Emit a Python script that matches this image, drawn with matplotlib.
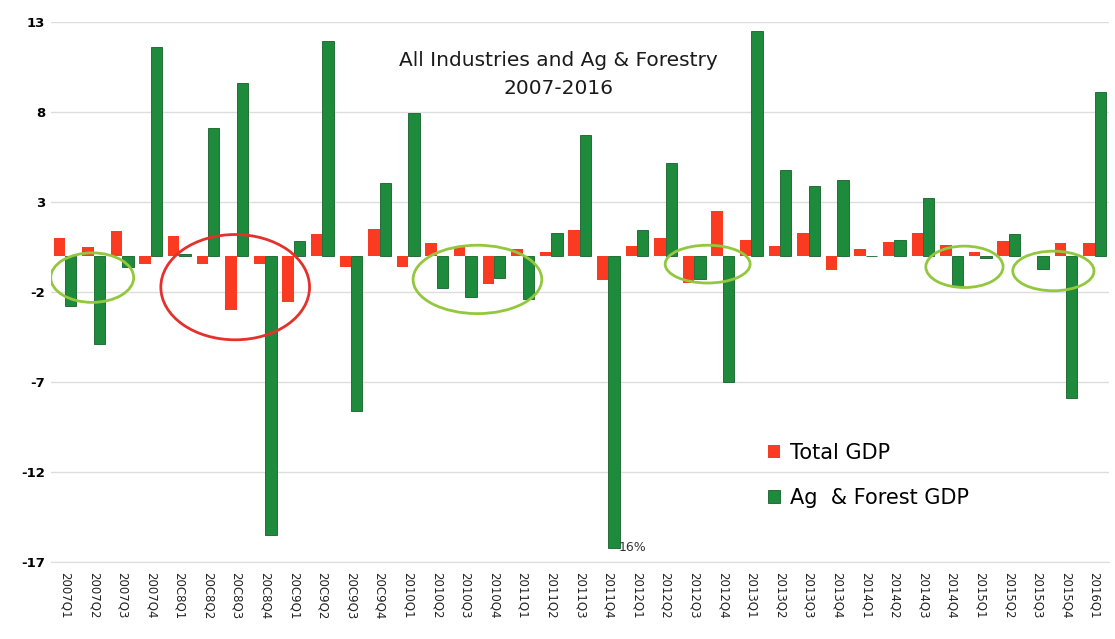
import numpy as np
import matplotlib
matplotlib.use("Agg")
from matplotlib import pyplot as plt
from matplotlib.patches import Ellipse

quarters = ['2007Q1', '2007Q2', '2007Q3', '2007Q4',
            '2008Q1', '2008Q2', '2008Q3', '2008Q4',
            '2009Q1', '2009Q2', '2009Q3', '2009Q4',
            '2010Q1', '2010Q2', '2010Q3', '2010Q4',
            '2011Q1', '2011Q2', '2011Q3', '2011Q4',
            '2012Q1', '2012Q2', '2012Q3', '2012Q4',
            '2013Q1', '2013Q2', '2013Q3', '2013Q4',
            '2014Q1', '2014Q2', '2014Q3', '2014Q4',
            '2015Q1', '2015Q2', '2015Q3', '2015Q4',
            '2016Q1']
# scanned tick labels show 2008/2009 as "20C8", "20C9"
tick_labels = [q.replace('2008', '20C8').replace('2009', '20C9') for q in quarters]

total_gdp = [1.0, 0.5, 1.4, -0.45,
             1.1, -0.45, -3.0, -0.45,
             -2.55, 1.25, -0.6, 1.5,
             -0.6, 0.75, 0.5, -1.55,
             0.4, 0.2, 1.45, -1.35,
             0.55, 1.0, -1.5, 2.5,
             0.9, 0.55, 1.3, -0.8,
             0.4, 0.8, 1.3, 0.6,
             0.2, 0.85, 0.0, 0.7,
             0.7]
ag_forest_gdp = [-2.8, -4.9, -0.6, 11.6,
                 0.1, 7.1, 9.6, -15.5,
                 0.85, 11.95, -8.6, 4.05,
                 7.95, -1.8, -2.25, -1.2,
                 -2.4, 1.3, 6.75, -16.2,
                 1.45, 5.15, -1.25, -7.0,
                 12.5, 4.8, 3.9, 4.25,
                 0.0, 0.9, 3.2, -1.65,
                 -0.1, 1.25, -0.7, -7.9,
                 9.1]
yticks = [-17, -12, -7, -2, 3, 8, 13]

# hand-drawn rings on the scan: (centre x, centre y, width, height, colour)
rings = [(0.95, -1.2, 2.9, 2.75, '#93c83e'),
         (5.95, -1.73, 5.2, 5.85, '#e4312b'),
         (14.42, -1.3, 4.5, 3.8, '#93c83e'),
         (22.47, -0.45, 2.97, 2.1, '#93c83e'),
         (31.45, -0.6, 2.7, 2.3, '#93c83e'),
         (34.56, -0.83, 2.84, 2.2, '#93c83e')]

red = '#fb3a22'
green = '#1e8b3c'

fig = plt.figure(figsize=(11.15, 6.39), dpi=100)
ax = fig.add_axes([0.0455, 0.1205, 0.949, 0.845])

x = np.arange(len(quarters))
w = 0.4
ax.bar(x - w / 2, total_gdp, w, color=red, label='Total GDP', zorder=3)
ax.bar(x + w / 2, ag_forest_gdp, w, color=green, edgecolor='#14602a',
       linewidth=0.6, label='Ag  & Forest GDP', zorder=3)

for cx, cy, ew, eh, col in rings:
    ax.add_patch(Ellipse((cx, cy), ew, eh, fill=False, edgecolor=col,
                         linewidth=2, zorder=4))

ax.text(19.35, -16.2, '16%', fontsize=9, color='#333333', va='center', ha='left')

ax.text(17.25, 10.1, 'All Industries and Ag & Forestry\n2007-2016',
        ha='center', va='center', fontsize=14.5, linespacing=1.6,
        color='#1a1a1a')

ax.set_xlim(-0.5, len(quarters) - 0.5)
ax.set_ylim(-17, 13)
ax.set_yticks(yticks)
ax.set_yticklabels([str(t) for t in yticks], fontsize=9.5, fontweight='bold')
ax.set_xticks(x)
ax.set_xticklabels(tick_labels, rotation=270, fontsize=8.5, color='#222222')
ax.tick_params(axis='y', length=0, pad=4)
ax.tick_params(axis='x', length=0, pad=7)
ax.yaxis.grid(True, color='#dddddd', linewidth=1, zorder=0)
for s in ['top', 'right', 'left']:
    ax.spines[s].set_visible(False)
ax.spines['bottom'].set_color('#dddddd')

ax.legend(loc='upper left', bbox_to_anchor=(0.66, 0.255), frameon=False,
          fontsize=15, handlelength=0.6, handleheight=0.6,
          handletextpad=0.45, labelspacing=1.2)

fig.savefig('out.png', dpi=100)
